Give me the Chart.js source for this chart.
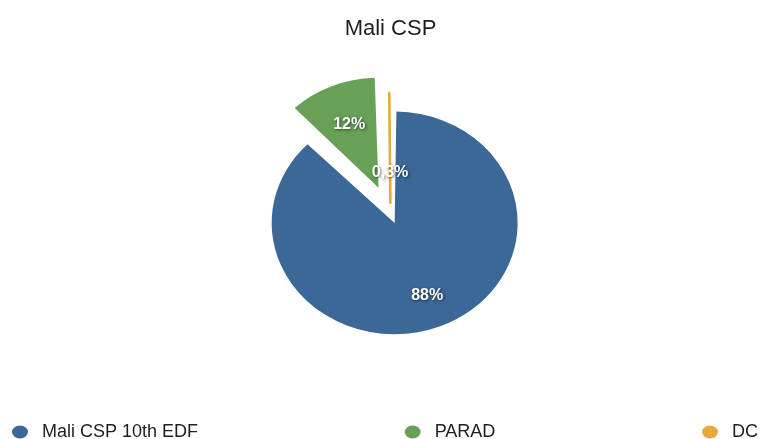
<!DOCTYPE html>
<html>
<head>
<meta charset="utf-8">
<script src="https://cdn.jsdelivr.net/npm/chart.js@4/dist/chart.umd.min.js"></script>
<style>
  html, body { margin: 0; padding: 0; background: #ffffff; }
  #wrap { position: relative; width: 762px; height: 439px; }
</style>
</head>
<body>
<div id="wrap"><canvas id="c"></canvas></div>
<script>
// ---- data ----
const TITLE = "Mali CSP";
const CATEGORIES = ["Mali CSP 10th EDF", "PARAD", "DC"];
const VALUES = [87.7, 12, 0.3];          // percent shares
const COLORS = ["#3b6897", "#68a058", "#e8a93c"];

// ---- styling helpers ----
const Y_SCALE = 0.905;                    // pie is drawn slightly flattened like the reference
const LABEL_RADIUS = [0.77, 0.68, 0.31];  // label distance as fraction of radius
const FONT = "'Liberation Sans', Arial, Helvetica, sans-serif";

function fmtPct(v) {
  if (v >= 1) return Math.round(v) + "%";
  return v.toFixed(1).replace(".", ",") + "%";
}

// translation that Chart.js' ArcElement applies for its `offset` option
function arcShift(el) {
  return (el.options.offset || 0) / 4;
}

const piePlugin = {
  id: "pieSquashAndLabels",
  beforeDatasetsDraw(chart) {
    const ctx = chart.ctx;
    const el = chart.getDatasetMeta(0).data[0];
    ctx.save();
    ctx.translate(0, el.y);
    ctx.scale(1, Y_SCALE);
    ctx.translate(0, -el.y);
  },
  afterDatasetsDraw(chart) {
    const ctx = chart.ctx;
    ctx.restore();
    const meta = chart.getDatasetMeta(0);
    ctx.save();
    ctx.font = "bold 16px " + FONT;
    ctx.textAlign = "center";
    ctx.textBaseline = "middle";
    ctx.fillStyle = "#ffffff";
    ctx.shadowColor = "rgba(0,0,0,0.6)";
    ctx.shadowBlur = 3;
    ctx.shadowOffsetX = 1;
    ctx.shadowOffsetY = 1;
    meta.data.forEach((el, i) => {
      const p = el.getProps(["x", "y", "startAngle", "endAngle", "outerRadius"], true);
      const mid = (p.startAngle + p.endAngle) / 2;
      const d = arcShift(el) + LABEL_RADIUS[i] * p.outerRadius;
      const px = p.x + Math.cos(mid) * d;
      const py = p.y + Math.sin(mid) * d * Y_SCALE;
      ctx.fillText(fmtPct(VALUES[i]), px, py);
    });
    ctx.restore();
  },
  afterDraw(chart) {
    // bottom legend, items spread across the full width
    const ctx = chart.ctx;
    const W = chart.width;
    const marginL = 12, marginR = 4, dotW = 16, gap = 14;
    ctx.save();
    ctx.font = "18px " + FONT;
    const widths = CATEGORIES.map(t => dotW + gap + ctx.measureText(t).width);
    const total = widths.reduce((a, b) => a + b, 0);
    const space = (W - marginL - marginR - total) / (CATEGORIES.length - 1);
    let x = marginL;
    const yText = 437, yDot = 432;
    CATEGORIES.forEach((t, i) => {
      ctx.fillStyle = COLORS[i];
      ctx.beginPath();
      ctx.ellipse(x + dotW / 2, yDot, 8, 6.5, 0, 0, Math.PI * 2);
      ctx.fill();
      ctx.fillStyle = "#1e1e1e";
      ctx.textAlign = "left";
      ctx.textBaseline = "alphabetic";
      ctx.fillText(t, x + dotW + gap, yText);
      x += widths[i] + space;
    });
    ctx.restore();
  }
};

new Chart(document.getElementById("c"), {
  type: "pie",
  data: {
    labels: CATEGORIES,
    datasets: [{
      data: VALUES,
      backgroundColor: COLORS,
      borderColor: COLORS,
      borderWidth: [0, 0, 2.6],
      offset: [44, 124, 44],
      hoverOffset: 0
    }]
  },
  options: {
    responsive: true,
    maintainAspectRatio: false,
    animation: false,
    radius: 112,
    layout: { padding: { left: 19, right: 0, top: 0, bottom: 95 } },
    plugins: {
      legend: { display: false },
      tooltip: { enabled: false },
      title: {
        display: true,
        text: TITLE,
        color: "#1e1e1e",
        font: { family: FONT, size: 22, weight: "normal" },
        padding: { top: 16, bottom: 41 }
      }
    }
  },
  plugins: [piePlugin]
});
</script>
</body>
</html>
